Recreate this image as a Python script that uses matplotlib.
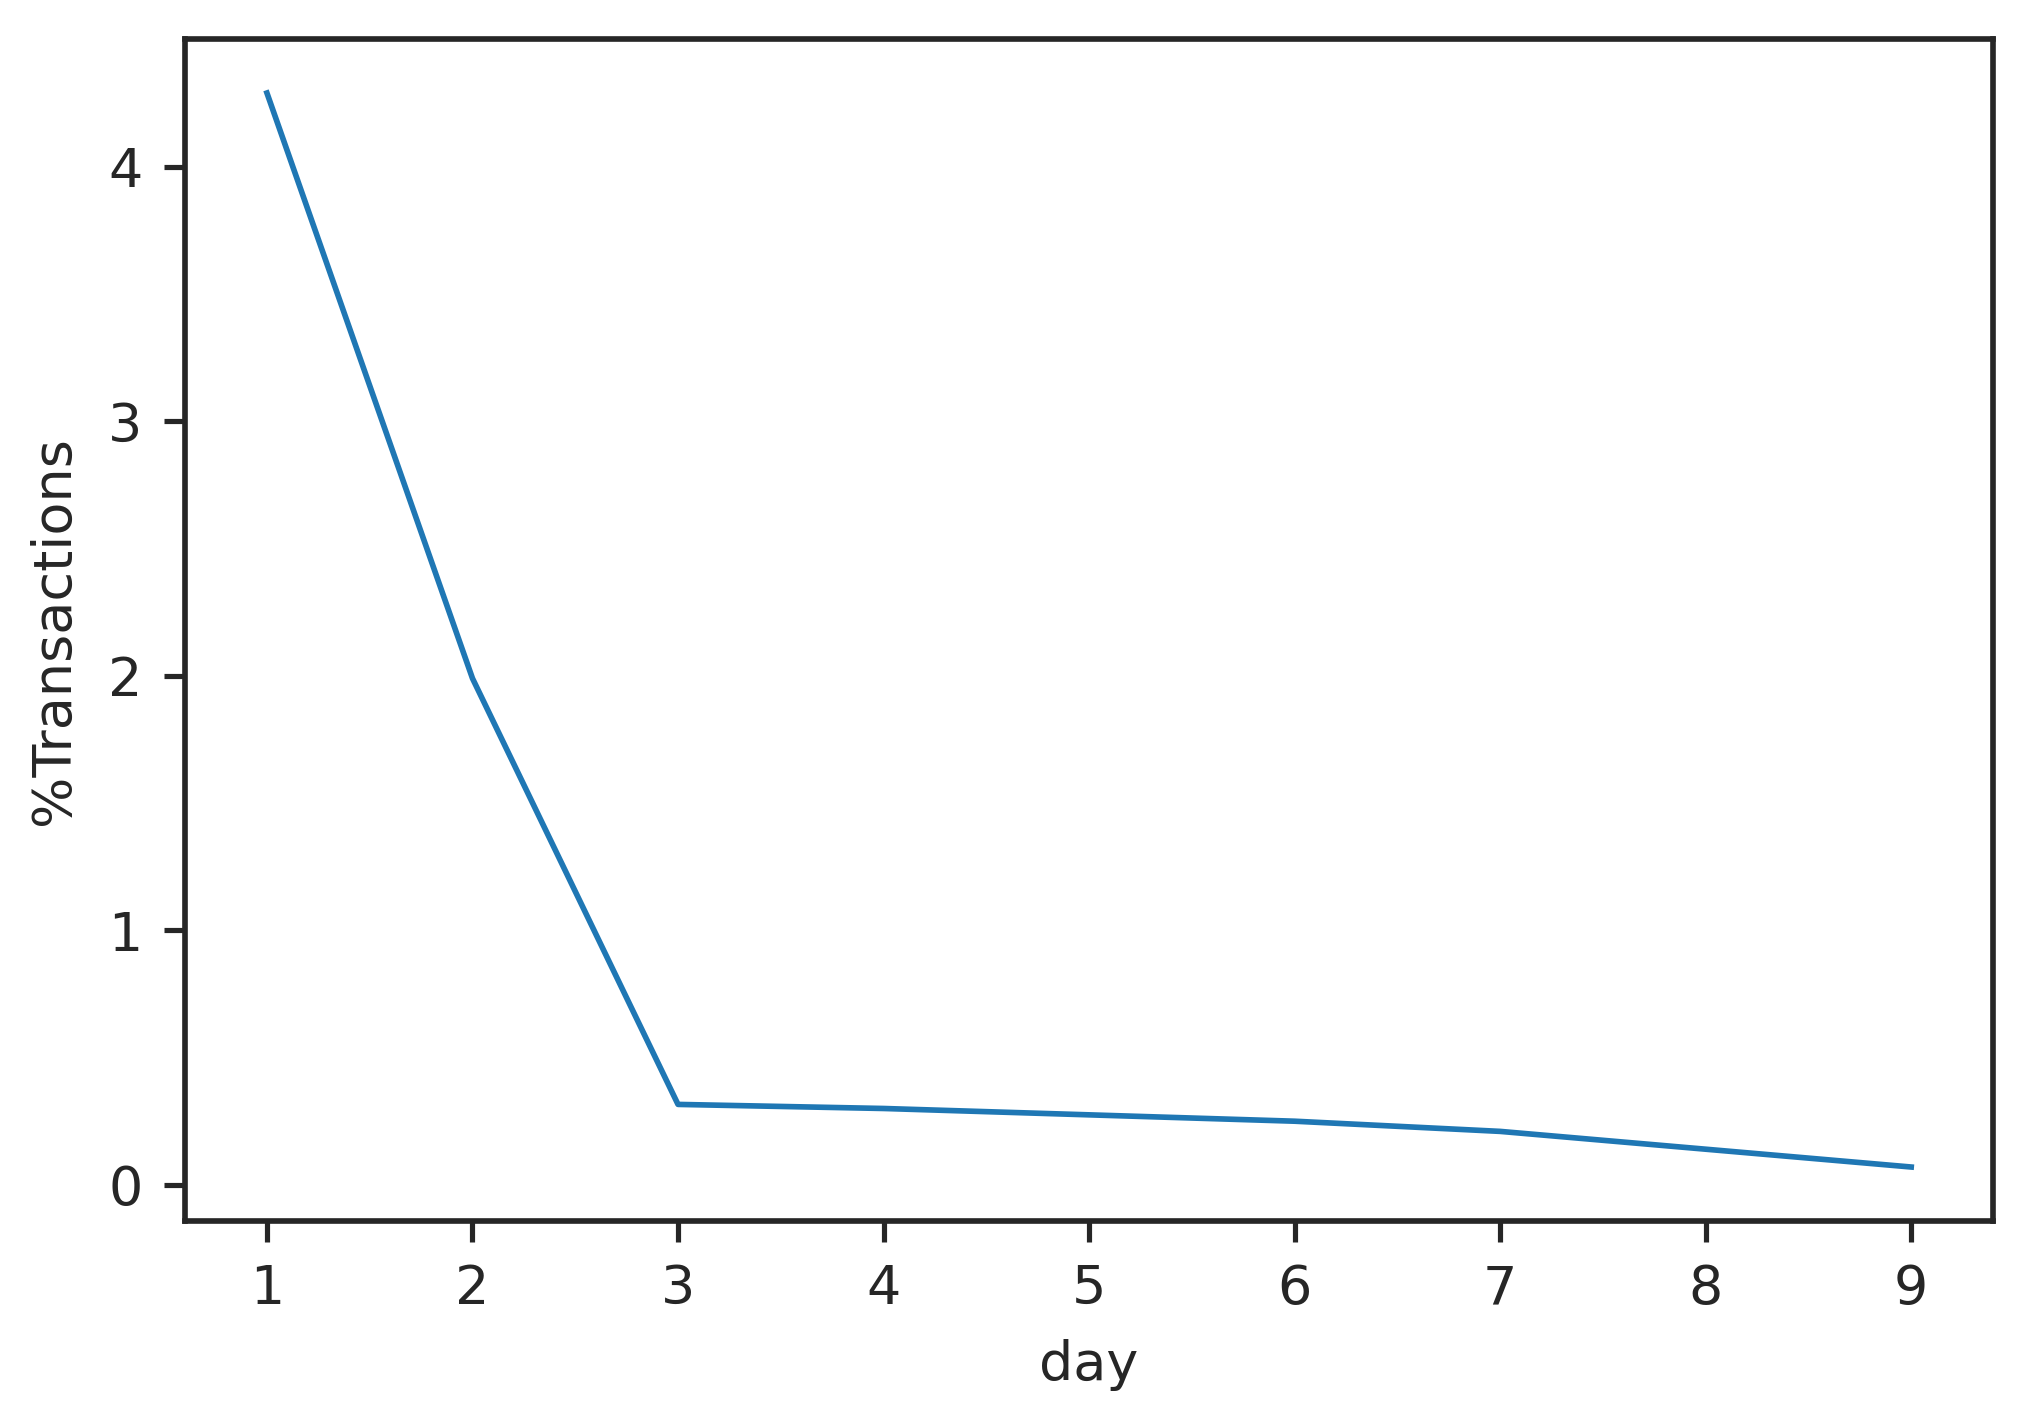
import matplotlib
matplotlib.use('Agg')
import matplotlib.pyplot as plt

days = [1, 2, 3, 4, 5, 6, 7, 8, 9]
pct_transactions = [4.29, 1.99, 0.316, 0.30, 0.275, 0.25, 0.21, 0.14, 0.07]

plt.rcParams['font.size'] = 11.5
plt.rcParams['text.color'] = '#262626'
plt.rcParams['axes.labelcolor'] = '#262626'
plt.rcParams['xtick.color'] = '#262626'
plt.rcParams['ytick.color'] = '#262626'

fig = plt.figure(figsize=(6.0, 4.162), dpi=338.33)
ax = fig.add_axes([0.091, 0.133, 0.891, 0.839])

ax.plot(days, pct_transactions, color='#1f77b4', linewidth=1.2)
ax.set_xlabel('day', labelpad=5)
ax.set_ylabel('%Transactions', labelpad=6)
ax.set_xticks(days)
ax.set_yticks([0, 1, 2, 3, 4])

ax.tick_params(length=4.5, width=1.1, pad=4.5)
for s in ax.spines.values():
    s.set_linewidth(1.2)
    s.set_color('#262626')

fig.savefig('out.png', dpi=338.33)
